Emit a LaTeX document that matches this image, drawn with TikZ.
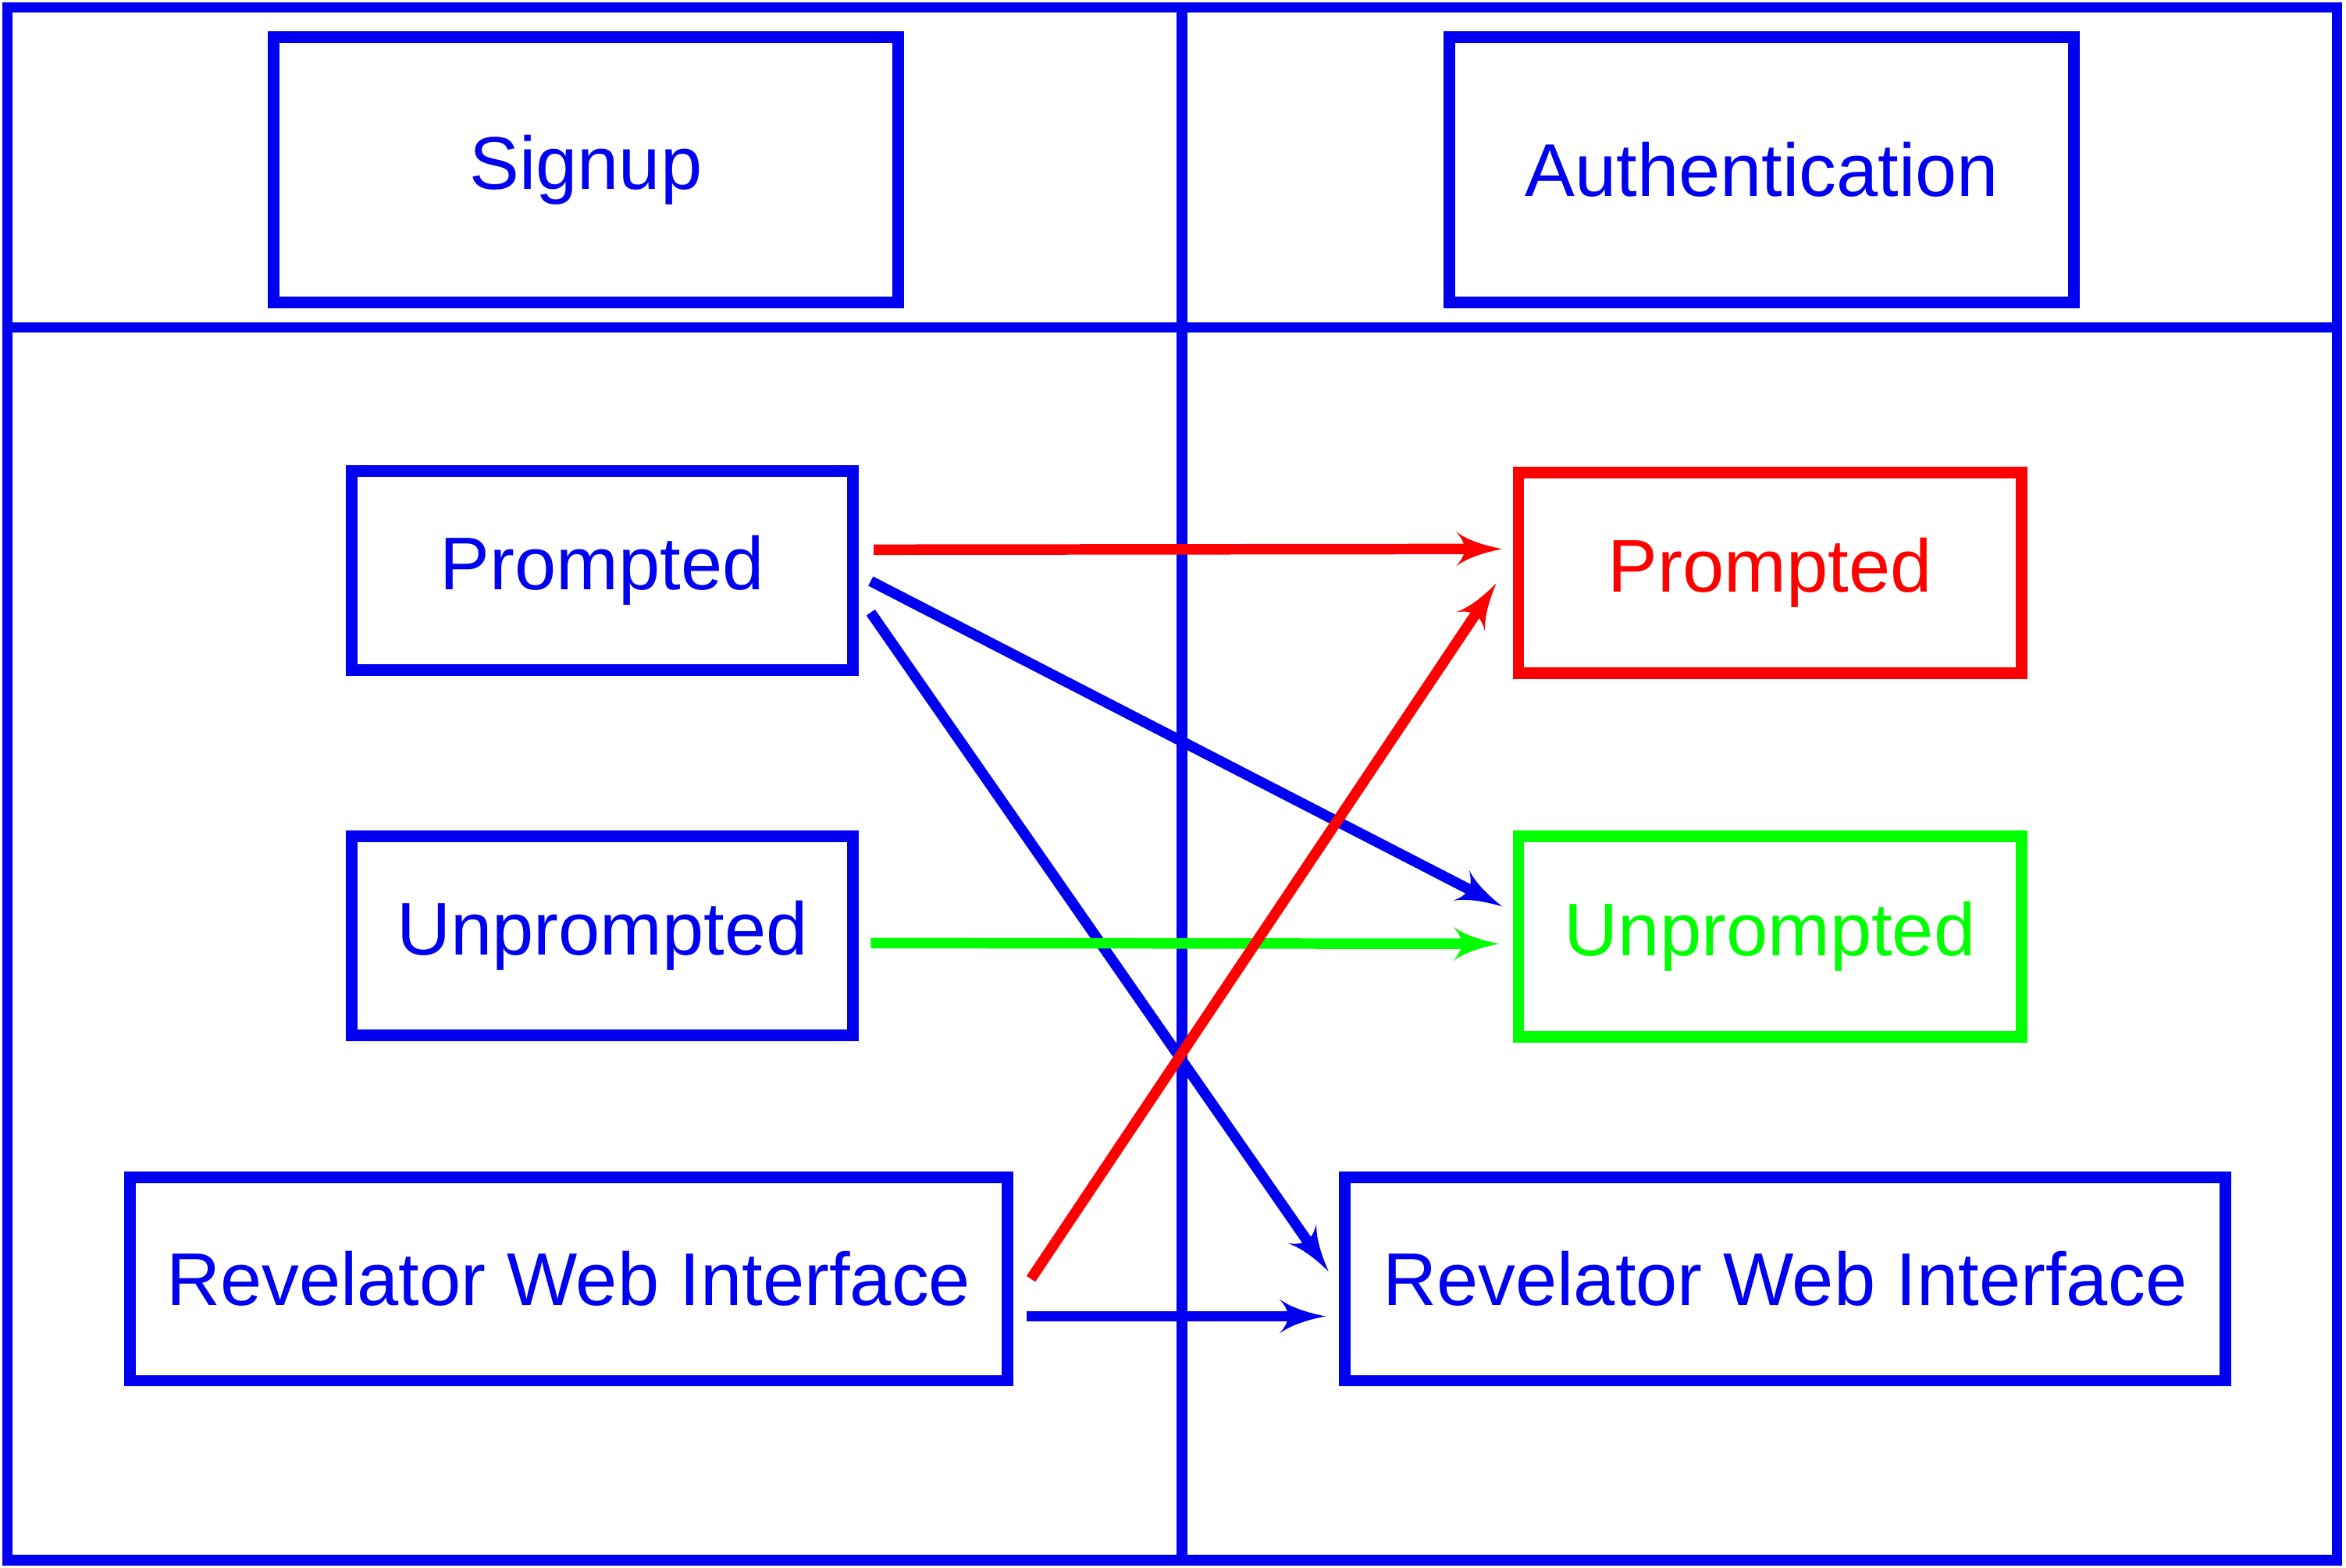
\documentclass[tikz,border=0pt]{standalone}
\usepackage{fontspec}
\setmainfont{Liberation Sans}
\usetikzlibrary{shapes,arrows}
\definecolor{pblue}{RGB}{0,0,240}
\definecolor{pred}{RGB}{255,0,0}
\definecolor{pgreen}{RGB}{0,255,0}
\begin{document}
\begin{tikzpicture}[x=0.01cm, y=-0.01cm,
    box/.style={draw, line width=2.2pt, inner sep=0pt, font=\fontsize{14.2}{17}\selectfont},
    link/.style={draw, line width=2pt, -latex'}]
      \useasboundingbox (0,0) rectangle (1568,1048);
      % frame
      \draw [pblue, line width=2pt] (5,5) rectangle (1562,1043);
      \draw [pblue, line width=2pt] (790,5) -- (790,1043);
      \draw [pblue, line width=2pt] (5,219) -- (1562,219);

      \node [box, pblue, name=signup, minimum width=4.17cm, minimum height=1.77cm] at (391.5,113.5) {Signup};
      \node [box, pblue, name=auth, minimum width=4.17cm, minimum height=1.77cm] at (1177.5,113.5) {Authentication};

      \node [box, pblue, name=p_l, minimum width=3.35cm, minimum height=1.33cm] at (402.5,381.5) {Prompted};
      \node [box, pblue, name=u_l, minimum width=3.35cm, minimum height=1.33cm] at (402.5,625.5) {Unprompted};
      \node [box, pblue, name=r_l, minimum width=5.86cm, minimum height=1.36cm] at (380,855) {Revelator Web Interface};

      \node [box, pred, name=p_r, minimum width=3.36cm, minimum height=1.34cm] at (1183,383) {Prompted};
      \node [box, pgreen, name=u_r, minimum width=3.36cm, minimum height=1.34cm] at (1183,626) {Unprompted};
      \node [box, pblue, name=r_r, minimum width=5.88cm, minimum height=1.36cm] at (1193,855) {Revelator Web Interface};

      \path [link, pred] ([shift={(10,-14)}]p_l.east) -- ([shift={(-7,-16)}]p_r.west);
      \path [link, pblue] ([shift={(8,7)}]p_l.east) -- ([shift={(-7,223)}]p_r.west);
      \path [link, pblue] ([shift={(8,28)}]p_l.east) -- ([shift={(-7,-5)}]r_r.west);
      \path [link, pgreen] ([shift={(8,5)}]u_l.east) -- ([shift={(-9,5)}]u_r.west);
      \path [link, pred] ([shift={(12,0)}]r_l.east) -- ([shift={(-11,7)}]p_r.west);
      \path [link, pblue] ([shift={(9,25)}]r_l.east) -- ([shift={(-9,25)}]r_r.west);
\end{tikzpicture}
\end{document}
